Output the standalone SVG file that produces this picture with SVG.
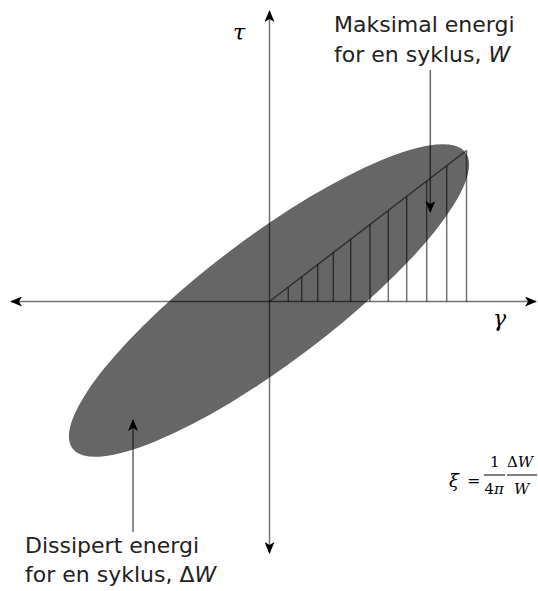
<svg xmlns="http://www.w3.org/2000/svg" width="538" height="591" viewBox="0 0 538 591">
<style>
.ln{stroke:#000;stroke-opacity:0.55;stroke-width:1.5;fill:none}
.lbl{font-family:"DejaVu Sans","Verdana",sans-serif;font-size:22px;fill:#222}
.math{font-family:"DejaVu Serif","Liberation Serif",serif;font-style:italic;fill:#000}
.mr{font-family:"DejaVu Serif","Liberation Serif",serif;fill:#000}
.ar{stroke:#000;stroke-opacity:0.6;stroke-width:1.5;fill:none}
</style>
<defs>
<marker id="ah" viewBox="0 0 12 10" refX="11" refY="5" markerWidth="12" markerHeight="10" markerUnits="userSpaceOnUse" orient="auto-start-reverse">
<path d="M0,0 L12,5 L0,10 L3,5 Z" fill="#000"/>
</marker>
</defs>
<g id="ellipse">
<ellipse cx="269" cy="300.5" rx="246" ry="63" transform="rotate(-37 269 300.5)" fill="#666666"/>
</g>
<g id="axes" class="ln">
<line x1="269.5" y1="553" x2="269.5" y2="11" marker-end="url(#ah)" marker-start="url(#ah)"/>
<line x1="11" y1="301.5" x2="536" y2="301.5" marker-end="url(#ah)" marker-start="url(#ah)"/>
</g>
<g id="energy-triangle" class="ln">
<line x1="269.5" y1="301.5" x2="466.5" y2="150.5"/>
<line x1="288.3" y1="301.5" x2="288.3" y2="287.3"/>
<line x1="301.7" y1="301.5" x2="301.7" y2="277"/>
<line x1="317.7" y1="301.5" x2="317.7" y2="264.7"/>
<line x1="333.3" y1="301.5" x2="333.3" y2="252.7"/>
<line x1="350.7" y1="301.5" x2="350.7" y2="239.4"/>
<line x1="370" y1="301.5" x2="370" y2="224.6"/>
<line x1="388.3" y1="301.5" x2="388.3" y2="210.6"/>
<line x1="406.7" y1="301.5" x2="406.7" y2="196.5"/>
<line x1="426.7" y1="301.5" x2="426.7" y2="181.2"/>
<line x1="446.7" y1="301.5" x2="446.7" y2="165.9"/>
<line x1="466.5" y1="301.5" x2="466.5" y2="150.5"/>
</g>
<g id="connectors" class="ar">
<line x1="430.3" y1="70" x2="430.3" y2="212" marker-end="url(#ah)"/>
<line x1="133" y1="532" x2="133" y2="420" marker-end="url(#ah)"/>
</g>
<g id="label-tau"><text class="math" x="233" y="40" font-size="22">τ</text></g>
<g id="label-gamma"><text class="math" x="493" y="326" font-size="22">γ</text></g>
<g id="label-max">
<text class="lbl" x="334" y="31.5">Maksimal energi</text>
<text class="lbl" x="334" y="61.5">for en syklus, <tspan font-style="italic">W</tspan></text>
</g>
<g id="label-diss">
<text class="lbl" x="25" y="552.5">Dissipert energi</text>
<text class="lbl" x="25" y="582">for en syklus, <tspan>Δ</tspan><tspan font-style="italic">W</tspan></text>
</g>
<g id="formula">
<text class="math" x="449" y="487" font-size="18">ξ</text>
<text class="mr" x="467" y="486" font-size="16">=</text>
<text class="mr" x="490" y="467" font-size="15">1</text>
<line x1="484" y1="475" x2="505" y2="475" stroke="#000" stroke-width="1"/>
<text class="mr" x="484.5" y="493.5" font-size="15">4<tspan font-style="italic">π</tspan></text>
<text class="mr" x="507" y="467" font-size="15">Δ<tspan font-style="italic">W</tspan></text>
<line x1="507" y1="475" x2="537" y2="475" stroke="#000" stroke-width="1"/>
<text class="math" x="514" y="493.5" font-size="15">W</text>
</g>
</svg>
